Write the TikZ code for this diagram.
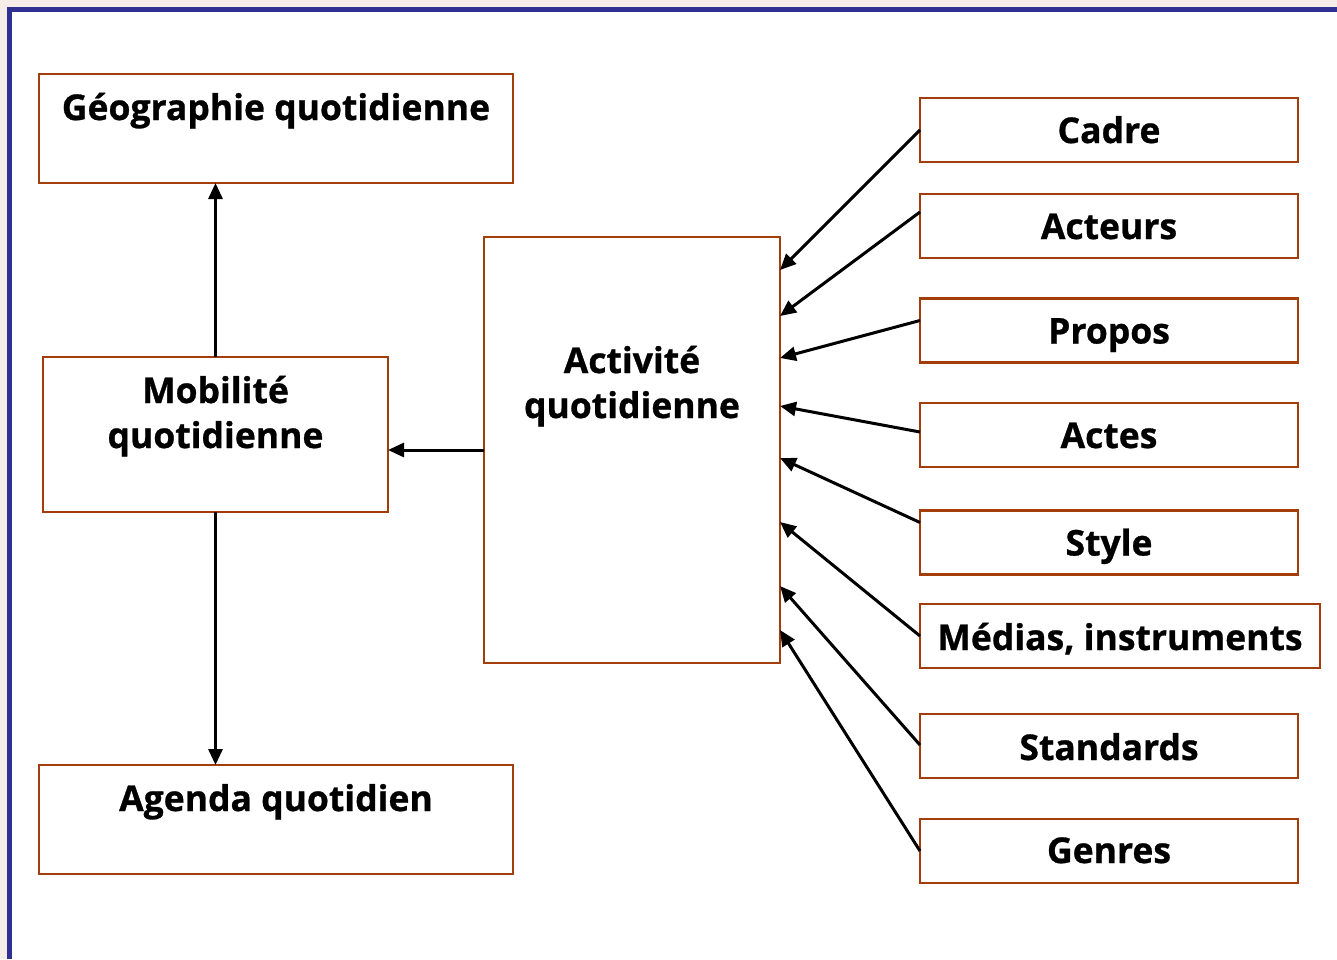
\documentclass[tikz,border=0pt]{standalone}
\usepackage{fontspec}
\setmainfont{Open Sans}[BoldFeatures={FakeBold=0.8}]
\usetikzlibrary{arrows.meta,calc}
\definecolor{boxbrown}{RGB}{163,62,11}
\definecolor{frameblue}{RGB}{46,49,146}
\definecolor{outside}{RGB}{247,237,232}
\tikzset{
  box/.style={draw=boxbrown, line width=2.6pt, fill=white, inner sep=0pt, outer sep=0pt, rectangle},
  lbl/.style={font=\fontsize{35.5}{42}\selectfont\bfseries, anchor=base, inner sep=0pt},
  arr/.style={line width=3pt, -{Triangle[length=16pt,width=14pt]}},
}
\begin{document}
\begin{tikzpicture}[x=1pt,y=-1pt]
\useasboundingbox (0,0) rectangle (1337,959);
\fill[outside] (0,0) rectangle (1337,959);
\fill[white] (9.5,9.5) rectangle (1337,959);
\draw[frameblue, line width=5pt] (9.5,959) -- (9.5,9.5) -- (1337,9.5);

% left column
\node[box, minimum width=474pt, minimum height=109pt] (geo) at (276,128.5) {};
\node[lbl] (geot) at ($(geo.north)+(0,46)$) {Géographie quotidienne};

\node[box, minimum width=345pt, minimum height=155pt] (mob) at (215.5,434.5) {};
\node[lbl] (mobt1) at ($(mob.north)+(0,46)$) {Mobilité};
\node[lbl] (mobt2) at ($(mob.north)+(0,91)$) {quotidienne};

\node[box, minimum width=474pt, minimum height=109pt] (age) at (276,819.5) {};
\node[lbl] (aget) at ($(age.north)+(0,46)$) {Agenda quotidien};

% centre
\node[box, minimum width=296pt, minimum height=426pt] (act) at (632,450) {};
\node[lbl] (actt1) at ($(act.north)+(0,136)$) {Activité};
\node[lbl] (actt2) at ($(act.north)+(0,181)$) {quotidienne};

% right column
\node[box, minimum width=378pt, minimum height=64pt] (cadre) at (1109,130) {};
\node[lbl] at ($(cadre.north)+(0,45)$) {Cadre};
\node[box, minimum width=378pt, minimum height=64pt] (acteurs) at (1109,226) {};
\node[lbl] at ($(acteurs.north)+(0,45)$) {Acteurs};
\node[box, minimum width=378pt, minimum height=64pt] (propos) at (1109,330.5) {};
\node[lbl] at ($(propos.north)+(0,45)$) {Propos};
\node[box, minimum width=378pt, minimum height=64pt] (actes) at (1109,435) {};
\node[lbl] at ($(actes.north)+(0,45)$) {Actes};
\node[box, minimum width=378pt, minimum height=64pt] (style) at (1109,542.5) {};
\node[lbl] at ($(style.north)+(0,45)$) {Style};
\node[box, minimum width=400pt, minimum height=64pt] (medias) at (1120,636) {};
\node[lbl] at ($(medias.north)+(0,46)$) {Médias, instruments};
\node[box, minimum width=378pt, minimum height=64pt] (standards) at (1109,746) {};
\node[lbl] at ($(standards.north)+(0,46)$) {Standards};
\node[box, minimum width=378pt, minimum height=64pt] (genres) at (1109,851) {};
\node[lbl] at ($(genres.north)+(0,44)$) {Genres};

% connectors
\draw[arr] (mob.north) -- (mob.north |- geo.south);
\draw[arr] (mob.south) -- (mob.south |- age.north);
\draw[arr] (act.west) -- (act.west -| mob.east);

\draw[arr] (cadre.west) -- ($(act.north east)+(0,33)$);
\draw[arr] ($(acteurs.west)+(0,-14)$) -- ($(act.north east)+(0,79)$);
\draw[arr] ($(propos.west)+(0,-10)$) -- ($(act.north east)+(0,121)$);
\draw[arr] ($(actes.west)+(0,-3)$) -- ($(act.north east)+(0,169)$);
\draw[arr] ($(style.west)+(0,-20)$) -- ($(act.north east)+(0,221)$);
\draw[arr] (medias.west) -- ($(act.north east)+(0,285)$);
\draw[arr] ($(standards.west)+(0,-1)$) -- ($(act.north east)+(0,349)$);
\draw[arr] (genres.west) -- ($(act.north east)+(0,393)$);
\end{tikzpicture}
\end{document}
